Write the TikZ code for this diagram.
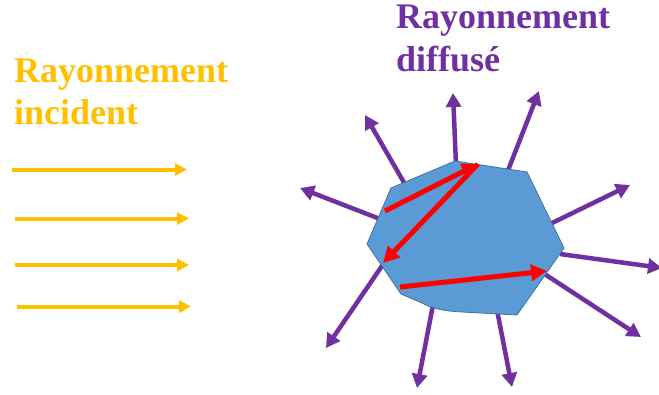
\documentclass[tikz,border=0pt]{standalone}
\usepackage{fontspec}
\setmainfont{Liberation Serif}
\usetikzlibrary{arrows.meta}
\definecolor{incol}{HTML}{FFC000}
\definecolor{difcol}{HTML}{7030A0}
\definecolor{grainfill}{HTML}{5B9BD5}
\definecolor{grainline}{HTML}{41719C}
\definecolor{raycol}{HTML}{FF0000}
\tikzset{
  lbl/.style={inner sep=0pt, anchor=base west, font=\rmfamily\bfseries\fontsize{36}{40}\selectfont},
  incarrow/.style={incol, line width=4pt, -{Triangle[length=12pt,width=12pt]}},
  difarrow/.style={difcol, line width=4.5pt, -{Triangle[length=14pt,width=15pt]}},
  redarrow/.style={raycol, line width=5pt, -{Triangle[length=16pt,width=16pt]}},
}
\begin{document}
\begin{tikzpicture}[x=1pt,y=-1pt]
\useasboundingbox (0,0) rectangle (659,394);
% labels
\node[lbl, text=incol] (inc1) at (14,82) {Rayonnement};
\node[lbl, text=incol] (inc2) at (14,124) {incident};
\node[lbl, text=difcol] (dif1) at (396,28) {Rayonnement};
\node[lbl, text=difcol] (dif2) at (396,71) {diffusé};
% incident arrows
\coordinate (i1s) at (12,169.5); \coordinate (i1e) at (187,169.5);
\coordinate (i2s) at (15,218.5); \coordinate (i2e) at (189,218.5);
\coordinate (i3s) at (15,265); \coordinate (i3e) at (189,265);
\coordinate (i4s) at (17,306.5); \coordinate (i4e) at (191,306.5);
\draw[incarrow] (i1s) -- (i1e);
\draw[incarrow] (i2s) -- (i2e);
\draw[incarrow] (i3s) -- (i3e);
\draw[incarrow] (i4s) -- (i4e);
% scattered arrows
\coordinate (d1s) at (406,186); \coordinate (d1e) at (365,115);
\coordinate (d2s) at (456,165); \coordinate (d2e) at (453,93);
\coordinate (d3s) at (507,173); \coordinate (d3e) at (539,91);
\coordinate (d4s) at (380,219); \coordinate (d4e) at (300,188);
\coordinate (d5s) at (550,224); \coordinate (d5e) at (630,185);
\coordinate (d6s) at (560,254); \coordinate (d6e) at (662,268);
\coordinate (d7s) at (543,273); \coordinate (d7e) at (641,337);
\coordinate (d8s) at (497,310); \coordinate (d8e) at (512,387);
\coordinate (d9s) at (433,305); \coordinate (d9e) at (417,388);
\coordinate (d10s) at (386,260); \coordinate (d10e) at (326,348);
\foreach \k in {1,...,10} {\draw[difarrow] (d\k s) -- (d\k e);}
% grain
\coordinate (g1) at (391,188);
\coordinate (g2) at (455,161);
\coordinate (g3) at (527,172);
\coordinate (g4) at (564,248);
\coordinate (g5) at (517,315);
\coordinate (g6) at (462,312);
\coordinate (g7) at (422,303);
\coordinate (g8) at (401,294);
\coordinate (g9) at (367,244);
\filldraw[fill=grainfill, draw=grainline, line width=0.8pt, line join=round]
  (g1) -- (g2) -- (g3) -- (g4) -- (g5) -- (g6)
  .. controls (442,311) and (431,308) .. (g7) -- (g8) -- (g9) -- cycle;
% internal rays
\coordinate (r1) at (385,211);
\coordinate (r2) at (478,164);
\coordinate (r3) at (383,263);
\coordinate (r4) at (400,287);
\coordinate (r5) at (547,271);
\draw[redarrow] (r1) -- (r2);
\draw[redarrow] (r2) -- (r3);
\draw[redarrow] (r4) -- (r5);
\end{tikzpicture}
\end{document}
